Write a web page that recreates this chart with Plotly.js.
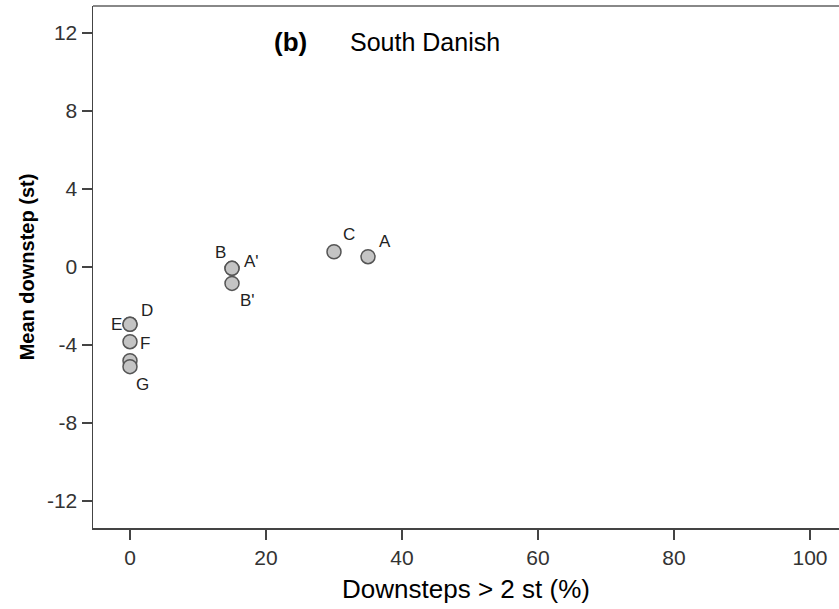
<!DOCTYPE html>
<html>
<head>
<meta charset="utf-8">
<script src="https://cdn.plot.ly/plotly-3.0.1.min.js"></script>
<style>html,body{margin:0;padding:0;background:#fff}#chart{width:839px;height:609px}</style>
</head>
<body>
<div id="chart"></div>
<script>
// Data
const pointLabels = ["A", "C", "B", "A'", "B'", "D", "E", "F", "", "G"];
const downstepsPct = [35, 30, 15, 15, 15, 0, 0, 0, 0, 0];
const meanDownstep = [0.53, 0.78, -0.07, -0.07, -0.84, -2.94, -2.94, -3.83, -4.81, -5.11];
const xTicks = [0, 20, 40, 60, 80, 100];
const yTicks = [-12, -8, -4, 0, 4, 8, 12];

// Label placement (pixel offsets from each point, styling only)
const labelDx = [17, 15, -12, 19, 15, 17, -13, 15, 0, 13];
const labelDy = [-15, -17, -16, -7, 17, -14, 0, 2, 0, 18];

const FONT = "Liberation Sans, Arial, sans-serif";

const trace = {
  type: "scatter",
  mode: "markers",
  x: downstepsPct,
  y: meanDownstep,
  marker: {size: 14, color: "#c4c4c4", line: {color: "#555555", width: 1.5}},
  hoverinfo: "skip"
};

const annotations = pointLabels.map((t, i) => ({
  x: downstepsPct[i], y: meanDownstep[i], xref: "x", yref: "y",
  text: t, showarrow: false,
  xshift: labelDx[i], yshift: -labelDy[i],
  font: {family: FONT, size: 17, color: "#222"}
})).filter(a => a.text !== "");

annotations.push({
  xref: "paper", yref: "paper", x: (272 - 93) / 746, y: 1 - (42 - 6) / 522,
  xanchor: "left", yanchor: "middle", showarrow: false,
  text: "<b>(b)</b>", font: {family: FONT, size: 26, color: "#000"}
});
annotations.push({
  xref: "paper", yref: "paper", x: (348 - 93) / 746, y: 1 - (42 - 6) / 522,
  xanchor: "left", yanchor: "middle", showarrow: false,
  text: "South Danish", font: {family: FONT, size: 25, color: "#000"}
});

const layout = {
  width: 839, height: 609,
  margin: {l: 93, r: 0, t: 6, b: 81, pad: 0},
  paper_bgcolor: "#fff", plot_bgcolor: "#fff",
  showlegend: false,
  font: {family: FONT, color: "#333"},
  xaxis: {
    range: [-5.44, 104.26], tickvals: xTicks, ticktext: xTicks.map(String),
    showgrid: false, zeroline: false,
    showline: true, linecolor: "#444", linewidth: 1.5,
    ticks: "outside", ticklen: 10, tickwidth: 1.5, tickcolor: "#444",
    tickfont: {family: FONT, size: 21, color: "#333"},
    title: {text: "Downsteps > 2 st (%)", font: {family: FONT, size: 26, color: "#000"}, standoff: 12}
  },
  yaxis: {
    range: [-13.385, 13.385], tickvals: yTicks, ticktext: yTicks.map(String),
    showgrid: false, zeroline: false,
    showline: true, linecolor: "#444", linewidth: 1.5,
    ticks: "outside", ticklen: 10, tickwidth: 1.5, tickcolor: "#444",
    tickfont: {family: FONT, size: 21, color: "#333"},
    title: {text: "<b>Mean downstep (st)</b>", font: {family: FONT, size: 20, color: "#000"}, standoff: 7}
  },
  shapes: [{
    type: "line", xref: "paper", yref: "paper", x0: 0, x1: 1, y0: 1, y1: 1,
    line: {color: "#888", width: 2}
  }],
  annotations: annotations
};

Plotly.newPlot("chart", [trace], layout, {displayModeBar: false, staticPlot: true});
</script>
</body>
</html>
